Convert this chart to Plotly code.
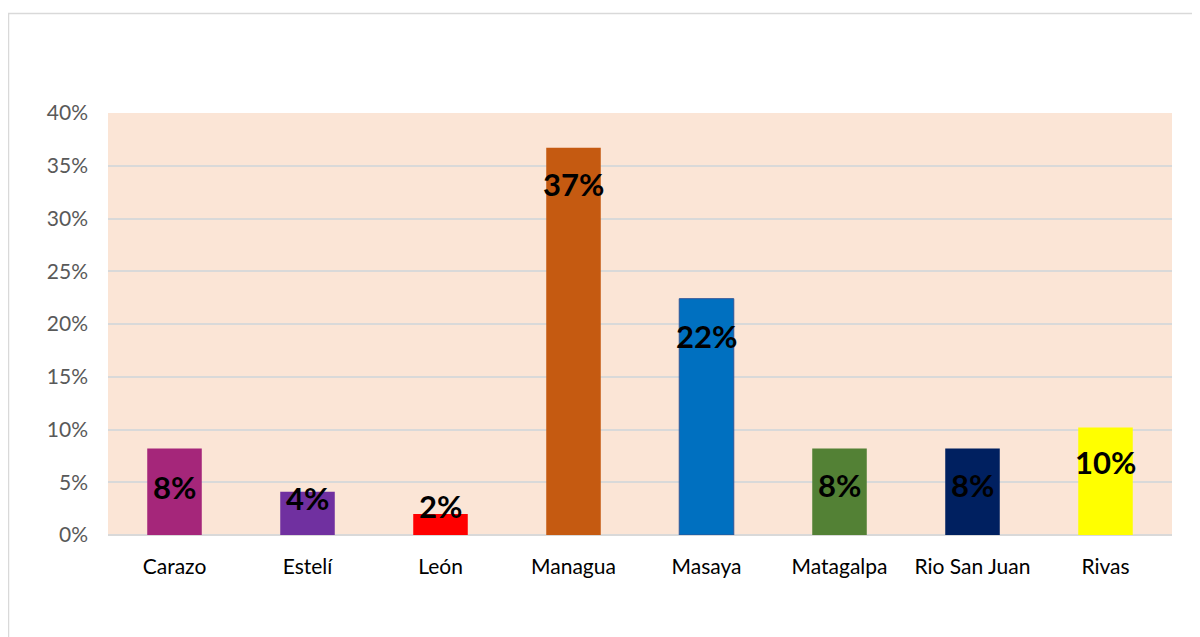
import plotly.graph_objects as go

categories = ["Carazo", "Estelí", "León", "Managua", "Masaya", "Matagalpa", "Rio San Juan", "Rivas"]
values = [8.2, 4.1, 2.0, 36.7, 22.4, 8.2, 8.2, 10.2]
labels = ["8%", "4%", "2%", "37%", "22%", "8%", "8%", "10%"]
colors = ["#A5267A", "#7030A0", "#FF0000", "#C55A11", "#0070C0", "#538135", "#002060", "#FFFF00"]
y_ticks = [0, 5, 10, 15, 20, 25, 30, 35, 40]
y_tick_text = ["0%", "5%", "10%", "15%", "20%", "25%", "30%", "35%", "40%"]

# pixel offset of each label centre from its bar top (layout only)
label_shift = [-39, -6, 8, -36, -37, -37, -37, -35]

fig = go.Figure()
fig.add_trace(go.Bar(
    x=categories, y=values,
    marker=dict(color=colors, line=dict(width=[0, 0, 0, 0, 1, 0, 0, 0], color="#2F5597")),
    width=0.41, hoverinfo="x+y",
))

for c, v, t, s in zip(categories, values, labels, label_shift):
    fig.add_annotation(x=c, y=v, text=t, showarrow=False, yshift=s,
                       font=dict(family="Lato", size=31, color="black", weight="bold"),
                       yanchor="middle")

# page body has an 8px margin, so the figure starts at (8, 8)
off = 8
W, H = 1200 - off, 637 - off
l, r, t, b = 108 - off, 28, 113 - off, 102
pw, ph = W - l - r, H - t - b
fig.add_shape(type="rect", xref="paper", yref="paper",
              x0=(0.5 - l) / pw, x1=(W + 10 - l) / pw,
              y0=(H - b - (H + 10)) / ph, y1=(H - b - 5.5) / ph,
              line=dict(color="#D9D9D9", width=1.5), fillcolor="rgba(0,0,0,0)", layer="below")

fig.update_layout(
    width=W, height=H,
    margin=dict(l=l, r=r, t=t, b=b),
    paper_bgcolor="white", plot_bgcolor="#FBE5D6",
    showlegend=False,
    font=dict(family="Lato", size=21, color="#595959"),
    xaxis=dict(showgrid=False, showline=False, ticks="", tickfont=dict(color="black", size=21),
               ticklabelstandoff=17),
    yaxis=dict(range=[0, 40], tickvals=y_ticks, ticktext=y_tick_text, showgrid=True,
               gridcolor="#D9D9D9", gridwidth=1.5, zeroline=True, zerolinecolor="#D9D9D9",
               zerolinewidth=1.5, ticks="", ticklabelstandoff=19, showline=False),
)

fig.write_html("out.html")
